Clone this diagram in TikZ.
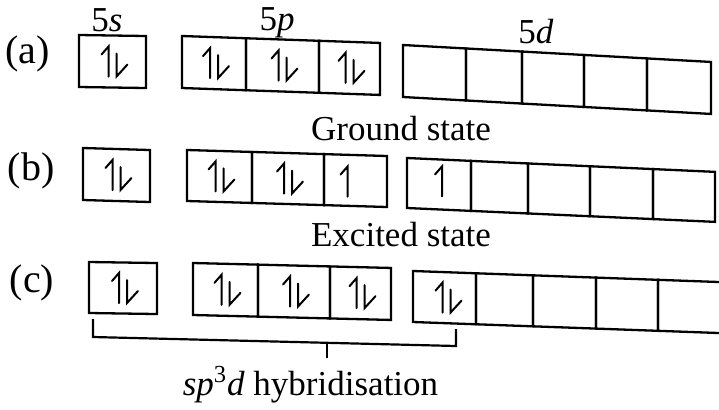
\documentclass[tikz,border=0pt]{standalone}
\usepackage{fontspec}
\setmainfont{Liberation Serif}
\usetikzlibrary{calc}
\newcommand\orbgroup[6]{% name, x, y, slope, height, widths
  \begin{scope}[shift={(#2,#3)}, yslant=#4]
    \coordinate (#1-0) at (0,0);
    \foreach \w [count=\i] in {#6} {
      \pgfmathtruncatemacro\j{\i-1}
      \node[cell={\w}{#5}] (#1-\i) at (#1-\j.north east) {};
    }
  \end{scope}}
\begin{document}
\begin{tikzpicture}[x=0.5pt,y=-0.5pt,
  cell/.style 2 args={draw, line width=1.15pt, inner sep=0pt, outer sep=0pt,
    anchor=north west, transform shape, minimum width=#1*0.5pt, minimum height=#2*0.5pt},
  spinline/.style={line width=1pt, line join=miter, line cap=round},
  brk/.style={line width=1.1pt},
  txt/.style={inner sep=0pt, anchor=base, font=\fontsize{17.5}{21}\selectfont},
  tag/.style={inner sep=0pt, anchor=base, font=\fontsize{20}{24}\selectfont},
  pair/.pic={\draw[spinline] (-4,15) -- (-4,-15) -- (-11,-7);
             \draw[spinline] (4,-8) -- (4,15) -- (15,3);},
  single/.pic={\draw[spinline] (0,15) -- (0,-15) -- (-7,-7);}
]
\useasboundingbox (0,0) rectangle (719,409);
\clip (0,0) rectangle (719,409);

% row (a)
\orbgroup{a5s}{79}{35}{-0.015}{52}{67}
\orbgroup{a5p}{182}{36}{-0.035}{52}{64,73,61}
\orbgroup{a5d}{403}{45}{-0.055}{52}{63,56,62,63,64}
% row (b)
\orbgroup{b5s}{83}{148}{-0.03}{52}{67}
\orbgroup{b5p}{187}{150}{-0.03}{51}{65,72,63}
\orbgroup{b5d}{407}{158}{-0.045}{50}{64,57,62,63,62}
% row (c)
\orbgroup{c5s}{89}{262}{-0.015}{51}{68}
\orbgroup{c5p}{193}{263}{-0.025}{52}{65,72,61}
\orbgroup{c5d}{413}{271}{-0.036}{51}{63,57,63,62,80}

% electrons
\pic at (a5s-1) {pair};
\pic at (a5p-1) {pair};
\pic at (a5p-2) {pair};
\pic at (a5p-3) {pair};
\pic at (b5s-1) {pair};
\pic at (b5p-1) {pair};
\pic at (b5p-2) {pair};
\pic at ($(b5p-3)+(-8,1)$) {single};
\pic at ($(b5d-1)+(3,-3)$) {single};
\pic at (c5s-1) {pair};
\pic at (c5p-1) {pair};
\pic at (c5p-2) {pair};
\pic at (c5p-3) {pair};
\pic at ($(c5d-1)+(2,0)$) {pair};

% labels
\node[tag] (la) at (27.5,63) {(a)};
\node[tag] (lb) at (31,180) {(b)};
\node[tag] (lc) at (32,292) {(c)};
\node[txt] (t5s) at (107,31) {5\textit{s}};
\node[txt] (t5p) at (277,30) {5\textit{p}};
\node[txt] (t5d) at (536,43) {5\textit{d}};
\node[txt] (tg) at (401,140) {Ground state};
\node[txt] (te) at (401,246) {Excited state};
\node[txt] (th) at (310.5,395) {\textit{sp}\textsuperscript{3}\textit{d} hybridisation};

% bracket
\coordinate (bl1) at (93,319);
\coordinate (bl2) at (93,337);
\coordinate (br2) at (456,346);
\coordinate (br1) at (456,329);
\coordinate (bt1) at (327,343);
\coordinate (bt2) at (327,358);
\draw[brk] (bl1) -- (bl2) -- (br2) -- (br1);
\draw[brk] (bt1) -- (bt2);
\end{tikzpicture}
\end{document}
